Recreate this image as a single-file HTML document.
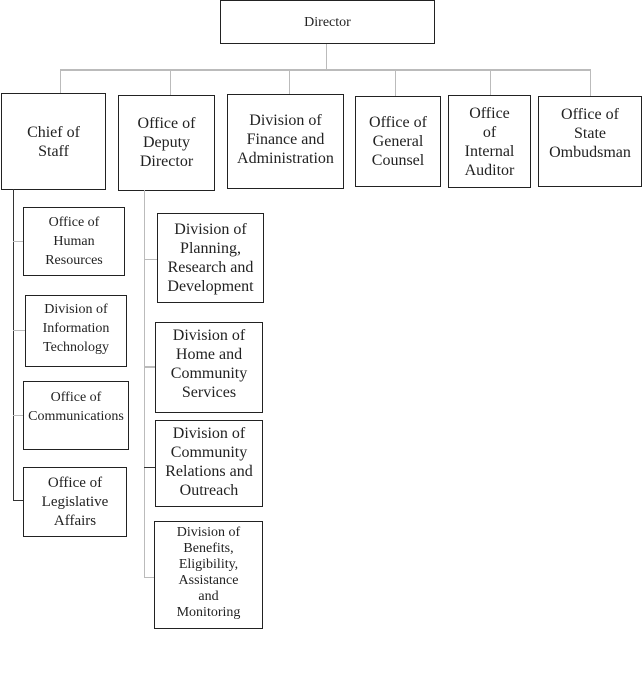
<!DOCTYPE html>
<html><head><style>
body{margin:0;width:643px;height:675px;background:#fff;position:relative;overflow:hidden;font-family:"Liberation Serif",serif;color:#222}
.b{position:absolute;box-sizing:border-box;border:1.5px solid #222;display:flex;align-items:center;justify-content:center;text-align:center;font-size:16px;line-height:19px}
.l{position:absolute;background:#bbb}
.k{position:absolute;background:#333}
</style></head><body>
<div class="l" style="left:326px;top:43px;width:1px;height:27px"></div>
<div class="l" style="left:60px;top:69px;width:531px;height:1.5px"></div>
<div class="l" style="left:60px;top:69px;width:1px;height:24px"></div>
<div class="l" style="left:170px;top:69px;width:1px;height:26px"></div>
<div class="l" style="left:289px;top:69px;width:1px;height:25px"></div>
<div class="l" style="left:395px;top:69px;width:1px;height:27px"></div>
<div class="l" style="left:490px;top:69px;width:1px;height:26px"></div>
<div class="l" style="left:590px;top:69px;width:1px;height:27px"></div>

<div class="b" style="left:220px;top:0;width:215px;height:44px;font-size:14px">Director</div>
<div class="b" style="left:1px;top:93px;width:105px;height:97px;padding-bottom:0">Chief of<br>Staff</div>
<div class="b" style="left:118px;top:95px;width:97px;height:96px;padding-bottom:2px">Office of<br>Deputy<br>Director</div>
<div class="b" style="left:227px;top:94px;width:117px;height:95px;padding-bottom:4px">Division of<br>Finance and<br>Administration</div>
<div class="b" style="left:355px;top:96px;width:86px;height:91px;padding-bottom:0">Office of<br>General<br>Counsel</div>
<div class="b" style="left:448px;top:95px;width:83px;height:93px">Office<br>of<br>Internal<br>Auditor</div>
<div class="b" style="left:538px;top:96px;width:104px;height:91px;padding-bottom:16px">Office of<br>State<br>Ombudsman</div>

<div class="k" style="left:13px;top:189px;width:1px;height:312px"></div>
<div class="l" style="left:13px;top:241px;width:10px;height:1px"></div>
<div class="l" style="left:13px;top:330px;width:12px;height:1px"></div>
<div class="l" style="left:13px;top:415px;width:10px;height:1px"></div>
<div class="k" style="left:13px;top:500px;width:10px;height:1px"></div>
<div class="b" style="left:23px;top:207px;width:102px;height:69px;font-size:14px;line-height:19px">Office of<br>Human<br>Resources</div>
<div class="b" style="left:25px;top:295px;width:102px;height:72px;font-size:14px;line-height:19px;padding-bottom:6px">Division of<br>Information<br>Technology</div>
<div class="b" style="left:23px;top:381px;width:106px;height:69px;font-size:14px;line-height:19px;padding-bottom:18px">Office of<br>Communications</div>
<div class="b" style="left:23px;top:467px;width:104px;height:70px;font-size:15px;line-height:19px">Office of<br>Legislative<br>Affairs</div>

<div class="l" style="left:144px;top:190px;width:1px;height:388px"></div>
<div class="l" style="left:144px;top:259px;width:13px;height:1px"></div>
<div class="l" style="left:144px;top:366px;width:11px;height:1.5px"></div>
<div class="k" style="left:144px;top:467px;width:11px;height:1px"></div>
<div class="l" style="left:144px;top:577px;width:10px;height:1px"></div>
<div class="b" style="left:157px;top:213px;width:107px;height:90px">Division of<br>Planning,<br>Research and<br>Development</div>
<div class="b" style="left:155px;top:322px;width:108px;height:91px;padding-bottom:8px">Division of<br>Home and<br>Community<br>Services</div>
<div class="b" style="left:155px;top:420px;width:108px;height:87px;padding-bottom:4px">Division of<br>Community<br>Relations and<br>Outreach</div>
<div class="b" style="left:154px;top:521px;width:109px;height:108px;font-size:14px;line-height:16px;padding-bottom:4px">Division of<br>Benefits,<br>Eligibility,<br>Assistance<br>and<br>Monitoring</div>
</body></html>
